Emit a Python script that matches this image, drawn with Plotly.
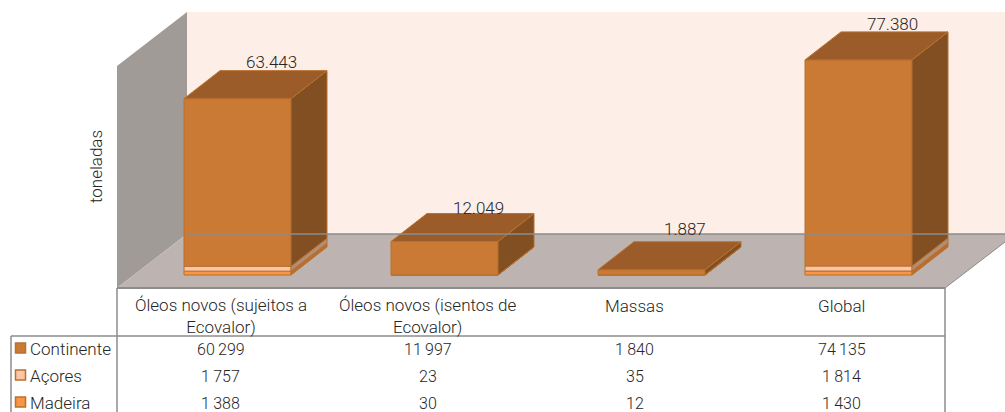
import plotly.graph_objects as go

# ---- data ----
categories = ["Óleos novos (sujeitos a<br>Ecovalor)", "Óleos novos (isentos de<br>Ecovalor)", "Massas", "Global"]
continente = [60299, 11997, 1840, 74135]
acores = [1757, 23, 35, 1814]
madeira = [1388, 30, 12, 1430]
total_labels = ["63.443", "12.049", "1.887", "77.380"]
continente_labels = ["60\u2009299", "11\u2009997", "1\u2009840", "74\u2009135"]
acores_labels = ["1\u2009757", "23", "35", "1\u2009814"]
madeira_labels = ["1\u2009388", "30", "12", "1\u2009430"]
series_names = ["Continente", "Açores", "Madeira"]
axis_title = "toneladas"

# ---- page geometry ----
W, H = 1005, 412
LEFT, RIGHT, FLOOR = 117, 945, 288       # front floor edge in pixels
CAT_PX = (RIGHT - LEFT) / 4
PX_PER_TON = 0.00278


def X(px):
    return (px - LEFT) / CAT_PX


def Y(py):
    return (FLOOR - py) / PX_PER_TON


def DX(px):
    return px / CAT_PX


def DY(px):
    return px / PX_PER_TON


FONT = "Roboto"
TXT = "#262626"
GRID = "#8c8c8c"
BAR_W = 107 / CAT_PX
FRONT_DX, FRONT_DY = DX(17), DY(13)   # bar front plane behind floor edge
BAR_DX, BAR_DY = DX(36), DY(28)       # depth of a bar

face = {"Continente": "#ca7a35", "Açores": "#fbc5a6", "Madeira": "#f79646"}
side = {"Continente": "#814f22", "Açores": "#b28e76", "Madeira": "#b96e30"}
TOP = "#9b5c2a"
EDGE = "#b8712f"


def font(size):
    return dict(family=FONT, size=size, color=TXT, weight=300)


fig = go.Figure()

# front faces, stacked from the floor up
bottoms = [FRONT_DY] * 4
stack = [("Madeira", madeira), ("Açores", acores), ("Continente", continente)]
centers = [i + 0.5 + FRONT_DX for i in range(4)]
for name, vals in stack:
    fig.add_bar(
        x=centers, y=vals, base=list(bottoms), width=BAR_W, name=name,
        marker=dict(color=face[name], line=dict(color=EDGE, width=1)),
        showlegend=False, hoverinfo="skip",
    )
    # right-hand side faces
    for i, v in enumerate(vals):
        xr = centers[i] + BAR_W / 2
        b = bottoms[i]
        fig.add_scatter(
            x=[xr, xr + BAR_DX, xr + BAR_DX, xr, xr],
            y=[b, b + BAR_DY, b + v + BAR_DY, b + v, b],
            mode="lines", fill="toself", fillcolor=side[name],
            line=dict(color=EDGE, width=1), showlegend=False, hoverinfo="skip",
        )
    bottoms = [b + v for b, v in zip(bottoms, vals)]

# top faces
for i, t in enumerate(bottoms):
    xl = centers[i] - BAR_W / 2
    xr = centers[i] + BAR_W / 2
    fig.add_scatter(
        x=[xl, xr, xr + BAR_DX, xl + BAR_DX, xl],
        y=[t, t, t + BAR_DY, t + BAR_DY, t],
        mode="lines", fill="toself", fillcolor=TOP,
        line=dict(color=EDGE, width=1), showlegend=False, hoverinfo="skip",
    )

# total labels
label_gap = [8.5, 6, 13, 8]
for i, t in enumerate(bottoms):
    fig.add_annotation(
        x=centers[i] + DX(33.5), y=t + BAR_DY + DY(label_gap[i]), text=total_labels[i],
        showarrow=False, font=font(17),
        xanchor="center", yanchor="middle",
    )

# walls & floor (behind everything)
wall_dx, wall_dy = DX(70), DY(54)
top_v = Y(66)
shapes = [
    dict(type="path", layer="below", line=dict(width=0), fillcolor="#fdeee7",
         path=f"M {wall_dx} {wall_dy} L {X(W)} {wall_dy} L {X(W)} {top_v + wall_dy} L {wall_dx} {top_v + wall_dy} Z"),
    dict(type="path", layer="below", line=dict(width=0), fillcolor="#a19b98",
         path=f"M 0 0 L {wall_dx} {wall_dy} L {wall_dx} {top_v + wall_dy} L 0 {top_v} Z"),
    dict(type="path", layer="below", line=dict(width=0), fillcolor="#bdb3b0",
         path=f"M 0 0 L {wall_dx} {wall_dy} L {X(W)} {wall_dy} L {X(W)} {Y(242)} L {X(RIGHT)} 0 Z"),
]


def line(x0, y0, x1, y1, w=1.5):
    return dict(type="line", layer="above", x0=X(x0), y0=Y(y0), x1=X(x1), y1=Y(y1),
                line=dict(color=GRID, width=w))


shapes += [
    line(LEFT, FLOOR, RIGHT, FLOOR, 2),
    line(RIGHT, FLOOR, W, 242, 1),
    line(187, 234, W, 234, 1.5),
    line(LEFT, FLOOR, LEFT, H),
    line(RIGHT, FLOOR, RIGHT, H),
    line(11, 336, RIGHT, 336),
    line(11, 336, 11, H),
]
fig.update_layout(shapes=shapes)

# category labels
for i, c in enumerate(categories):
    yc = 316 if "<br>" in c else 306
    fig.add_annotation(x=i + 0.5, y=Y(yc), text=c, showarrow=False,
                       font=font(17), align="center",
                       xanchor="center", yanchor="middle")

# table rows
rows = [(continente_labels, 349), (acores_labels, 376), (madeira_labels, 403)]
for labels, py in rows:
    for i, s in enumerate(labels):
        fig.add_annotation(x=i + 0.5, y=Y(py), text=s, showarrow=False,
                           font=font(16),
                           xanchor="center", yanchor="middle")
for name, (_, py) in zip(series_names, rows):
    fig.add_annotation(x=X(27.5), y=Y(py), text=name, showarrow=False,
                       font=font(17),
                       xanchor="left", yanchor="middle")
    fig.add_scatter(x=[X(20.5)], y=[Y(py - 1)], mode="markers",
                    marker=dict(symbol="square", size=10, color=face[name],
                                line=dict(color=EDGE, width=1.5)),
                    showlegend=False, hoverinfo="skip")

fig.add_annotation(x=X(96), y=Y(167), text=axis_title, textangle=-90, showarrow=False,
                   font=font(17))

fig.update_layout(
    width=W, height=H, margin=dict(l=0, r=0, t=0, b=0),
    paper_bgcolor="white", plot_bgcolor="white", barmode="overlay", showlegend=False,
    xaxis=dict(range=[X(0), X(W)], visible=False, fixedrange=True),
    yaxis=dict(range=[Y(H), Y(0)], visible=False, fixedrange=True),
)
fig.write_html("out.html", config={"displayModeBar": False},
               post_script="document.body.style.margin='0';document.body.style.overflow='hidden';")
